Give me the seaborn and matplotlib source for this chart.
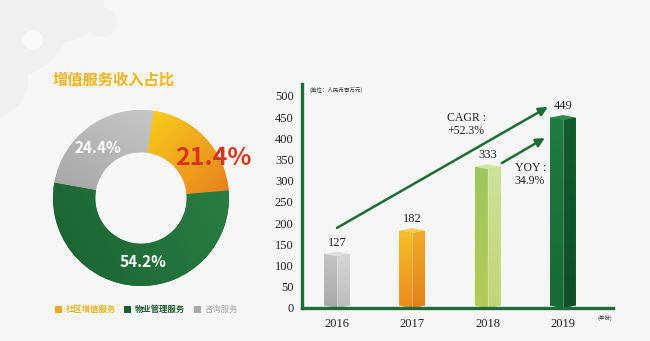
import numpy as np
import matplotlib
matplotlib.use("Agg")
import matplotlib.pyplot as plt
import seaborn as sns
from matplotlib.patches import Polygon, Circle, Rectangle
from matplotlib.colors import LinearSegmentedColormap

# ---- data -------------------------------------------------------------
share_labels = ["社区增值服务", "物业管理服务", "咨询服务"]
share_values = [21.4, 54.2, 24.4]

years = ["2016", "2017", "2018", "2019"]
revenue = [127, 182, 333, 449]

cagr_label = "CAGR :\n+52.3%"
yoy_label = "YOY :\n34.9%"

# ---- style ------------------------------------------------------------
W, H = 650, 341
BG = "#f6f6f6"
GREEN = "#1d6b36"
sns.set_theme(style="white")
plt.rcParams["font.family"] = ["Noto Sans CJK SC", "DejaVu Sans"]
SERIF = ["Liberation Serif", "DejaVu Serif"]

fig = plt.figure(figsize=(6.5, 3.41), dpi=100)
fig.patch.set_facecolor(BG)


def fx(px):
    return px / W


def fy(py):
    return 1 - py / H


# ---- decorative backdrop ---------------------------------------------
bg = fig.add_axes([0, 0, 1, 1])
bg.set_xlim(0, W)
bg.set_ylim(H, 0)
bg.axis("off")
bg.set_zorder(-5)
for (cx, cy, r) in [(12, 18, 58), (62, 0, 42), (102, 22, 15), (-10, 80, 38)]:
    bg.add_patch(Circle((cx, cy), r, color="#f0f0f0", lw=0))
bg.add_patch(Circle((33, 40), 10, color="#f9f9f9", lw=0))


def gradient_into(ax, clip_patch, extent, c_start, c_end, direction):
    """Fill clip_patch with a linear gradient running along `direction`."""
    n = 200
    xs = np.linspace(0, 1, n)
    ys = np.linspace(0, 1, n)
    X, Y = np.meshgrid(xs, ys)
    dx, dy = direction
    t = X * dx + Y * dy
    t = (t - t.min()) / (t.max() - t.min() + 1e-9)
    cmap = LinearSegmentedColormap.from_list("g", [c_start, c_end])
    im = ax.imshow(t, extent=extent, origin="lower", cmap=cmap,
                   aspect="auto", interpolation="bilinear",
                   zorder=clip_patch.get_zorder() + 0.1)
    im.set_clip_path(clip_patch)
    return im


# ---- donut ------------------------------------------------------------
fig.text(fx(53), fy(80), "增值服务收入占比", fontsize=11,
         fontweight="bold", color="#f1b51b", va="center")

R_OUT = 88
pax = fig.add_axes([fx(141 - R_OUT), fy(198 + R_OUT),
                    2 * R_OUT / W, 2 * R_OUT / H])
pax.axis("off")
wedges, _ = pax.pie(share_values, startangle=82, counterclock=False,
                    radius=1, colors=["#f0a31f", "#1f6f38", "#b5b5b5"],
                    wedgeprops=dict(width=0.48, linewidth=0))
pax.set_xlim(-1, 1)
pax.set_ylim(-1, 1)

wedge_grads = [("#f8cf1a", "#e8801f", (1, -1)),
               ("#1b6232", "#2a7e43", (1, 0.3)),
               ("#a6a6a6", "#c6c6c6", (0.6, 1))]
for w, (c1, c2, d) in zip(wedges, wedge_grads):
    bb = w.get_path().transformed(w.get_patch_transform()).get_extents()
    gradient_into(pax, w, (bb.x0, bb.x1, bb.y0, bb.y1), c1, c2, d)

pie_label_pos = [(0.82, 0.45), (0.02, -0.73), (-0.49, 0.57)]
for i, (val, (lx, ly)) in enumerate(zip(share_values, pie_label_pos)):
    if i == 0:
        pax.text(lx, ly, f"{val:.1f}%", ha="center", va="center",
                 fontsize=18, fontweight="bold", color="#d8361a", zorder=10)
    else:
        pax.text(lx, ly, f"{val:.1f}%", ha="center", va="center",
                 fontsize=11, fontweight="bold", color="white", zorder=10)

# legend under the donut
legend_items = [(55, "#f0a820", "#efb21c", "bold"),
                (124, "#1b5e30", "#1f5a30", "bold"),
                (194, "#a9a9a9", "#a6a6a6", "normal")]
for (x, sq, tc, wt), lab in zip(legend_items, share_labels):
    fig.patches.append(Rectangle((fx(x), fy(313)), 7 / W, 7 / H,
                                 transform=fig.transFigure,
                                 color=sq, lw=0))
    fig.text(fx(x + 11), fy(309.5), lab, fontsize=6, color=tc,
             fontweight=wt, va="center")

# ---- revenue bars -----------------------------------------------------
bax = fig.add_axes([fx(302), fy(308), (613 - 302) / W, (308 - 84) / H])
bax.set_facecolor("none")
bar_palette = ["#b4b4b4", "#ee9a22", "#b9d164", "#1a6e38"]
sns.barplot(x=years, y=revenue, hue=years, palette=bar_palette,
            legend=False, width=0.345, ax=bax, linewidth=0, saturation=1)

YMAX = 528.3
bax.set_xlim(-0.465, 3.665)
bax.set_ylim(0, YMAX)

# face colours: (left top, left bottom, right top, right bottom, cap)
face_cols = [
    ("#c4c4c4", "#a8a8a8", "#d6d6d6", "#bcbcbc", "#dedede"),
    ("#f6c02a", "#eb8a1c", "#efad27", "#e2801a", "#f8cc4c"),
    ("#9cc660", "#b7cb58", "#cde29c", "#c3d376", "#d3e7a6"),
    ("#1f7c40", "#166a34", "#135c2d", "#0f5027", "#2e8c4b"),
]
px_per_unit = (308 - 84) / YMAX
dh = 2.6 / px_per_unit
for p, cols in zip(bax.patches, face_cols):
    x0, w, h = p.get_x(), p.get_width(), p.get_height()
    xc, x1 = x0 + w / 2, x0 + w
    outline = Polygon([(x0, dh), (x0, h), (xc, h + dh), (x1, h),
                       (x1, dh), (xc, 0)], closed=True,
                      transform=bax.transData)
    p.set_clip_path(outline)
    left = Polygon([(x0, dh), (x0, h), (xc, h - dh), (xc, 0)],
                   closed=True, transform=bax.transData, zorder=2)
    right = Polygon([(xc, 0), (xc, h - dh), (x1, h), (x1, dh)],
                    closed=True, transform=bax.transData, zorder=2)
    cap = Polygon([(x0, h), (xc, h + dh), (x1, h), (xc, h - dh)],
                  closed=True, transform=bax.transData, zorder=2)
    gradient_into(bax, left, (x0, xc, 0, h), cols[1], cols[0], (0, 1))
    gradient_into(bax, right, (xc, x1, 0, h), cols[3], cols[2], (0, 1))
    cap.set_facecolor(cols[4])
    cap.set_edgecolor("none")
    bax.add_patch(cap)
    bax.plot([xc, xc], [0, h - dh], color="white", alpha=0.35, lw=0.6,
             zorder=3)
    bax.annotate(f"{int(round(h))}", xy=(xc, h + dh), xytext=(0, 6.5),
                 textcoords="offset points", ha="center", va="center",
                 fontsize=9, family=SERIF, color="#222222")

bax.set_xlim(-0.465, 3.665)
bax.set_ylim(0, YMAX)

# growth arrows
arrow_kw = dict(arrowstyle="-|>", color=GREEN, lw=1.8, mutation_scale=13,
                shrinkA=0, shrinkB=0)
bax.annotate("", xy=(2.80, 474), xytext=(0, 189), arrowprops=arrow_kw)
bax.annotate("", xy=(2.76, 401), xytext=(2.19, 342), arrowprops=arrow_kw)
bax.text(1.46, 432, cagr_label, fontsize=8.5, family=SERIF,
         color="#222222", va="center", ha="left", linespacing=1.1)
bax.text(2.36, 315, yoy_label, fontsize=8.5, family=SERIF,
         color="#222222", va="center", ha="left", linespacing=1.1)

# axes styling
sns.despine(ax=bax, top=True, right=True)
for side in ("left", "bottom"):
    bax.spines[side].set_color(GREEN)
    bax.spines[side].set_linewidth(2.4)
    bax.spines[side].set_zorder(6)
bax.set_yticks(range(0, 501, 50))
bax.tick_params(axis="both", length=0, colors="#222222", labelsize=9)
bax.tick_params(axis="y", pad=6)
bax.tick_params(axis="x", pad=7)
for lbl in bax.get_xticklabels() + bax.get_yticklabels():
    lbl.set_fontfamily(SERIF)
bax.set_xlabel("")
bax.set_ylabel("")
bax.grid(False)

fig.text(fx(310), fy(90), "(单位：人民币百万元)", fontsize=4,
         color="#333333", va="center")
fig.text(fx(597), fy(318), "(年份)", fontsize=4, color="#333333",
         va="center")

fig.savefig("out.png", dpi=100, facecolor=BG)
